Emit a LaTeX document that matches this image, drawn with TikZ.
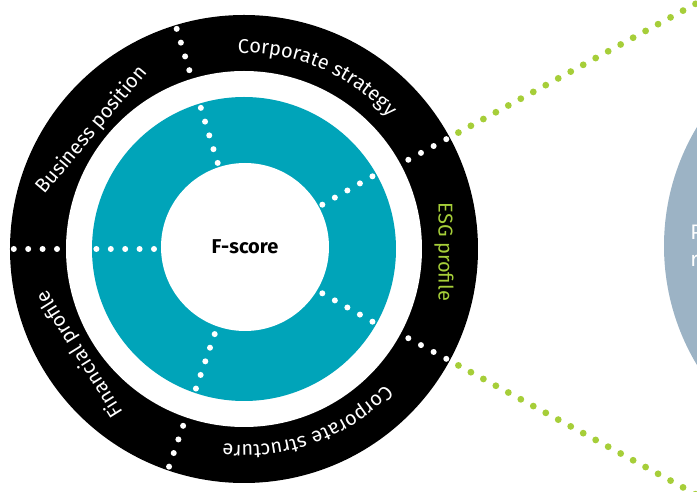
\documentclass[tikz,border=0pt]{standalone}
\usepackage{fontspec}
\setmainfont{Fira Sans}
\usetikzlibrary{decorations.text}
\definecolor{ringteal}{RGB}{0,164,185}
\definecolor{esggreen}{RGB}{166,206,57}
\definecolor{paneblue}{RGB}{156,179,197}

\begin{document}
\begin{tikzpicture}[x=0.5pt,y=0.5pt,
	disc/.style={circle, inner sep=0pt, outer sep=0pt},
	whitedots/.style={white, line width=3pt, line cap=round, dash pattern=on 0pt off 7.2pt},
	greendots/.style={esggreen, line width=3.4pt, line cap=round, dash pattern=on 0pt off 7.1pt},
	ringlabel/.style={text=white, inner sep=0pt, font=\fontsize{10}{12}\selectfont},
	panelabel/.style={text=white, inner sep=0pt, anchor=base west, font=\fontsize{10.5}{13}\selectfont}]
	
	\useasboundingbox (-244,-243) rectangle (453,249);
	\clip (-244,-243) rectangle (453,249);
	
	%Nodes
	\node[disc, fill=paneblue, minimum size=231pt]	(pane)	at (651,3)	{};
	\node[disc, fill=black, minimum size=234pt]	(outer)	at (0,0)	{};
	\node[disc, fill=white, minimum size=178pt]	(gap)	at (0,0)	{};
	\node[disc, fill=ringteal, minimum size=152pt]	(ring)	at (0,0)	{};
	\node[disc, fill=white, minimum size=84pt, font=\bfseries\fontsize{10}{12}\selectfont]	(fscore)	at (1,2)	{F-score};
	
	%Labels
	\node[ringlabel, rotate=50]	(business)	at (-152,119)	{Business position};
	\node[ringlabel, rotate=-90, text=esggreen]	(esg)	at (200,-3)	{ESG profile};
	\node[ringlabel, rotate=122]	(financial)	at (-164,-105)	{Financial profile};
	\path[decorate, decoration={text along path, text align=center,
		text={|\color{white}\fontsize{10}{12}\selectfont|Corporate strategy}}]
		(102:196) arc[start angle=102, end angle=32, radius=196];
	\path[decorate, decoration={text along path, text align=center,
		text={|\color{white}\fontsize{10}{12}\selectfont|Corporate structure}}]
		(-35:196) arc[start angle=-35, end angle=-105, radius=196];
	\node[panelabel]	(panep)	at (446,9)	{P};
	\node[panelabel]	(paner)	at (446,-18)	{r};
	
	%Lines
	\foreach \a in {107,28.5,180,-28.5,-109}{
		\draw[whitedots] (\a:187) -- (\a:231);
	}
	\foreach \a in {107,29.5,180,-29.5,-109}{
		\draw[whitedots] (\a:90) -- (\a:148);
	}
	\draw[greendots] (28.5:244) -- (28.5:560);
	\draw[greendots] (-28.5:244) -- (-28.5:560);
\end{tikzpicture}
\end{document}
